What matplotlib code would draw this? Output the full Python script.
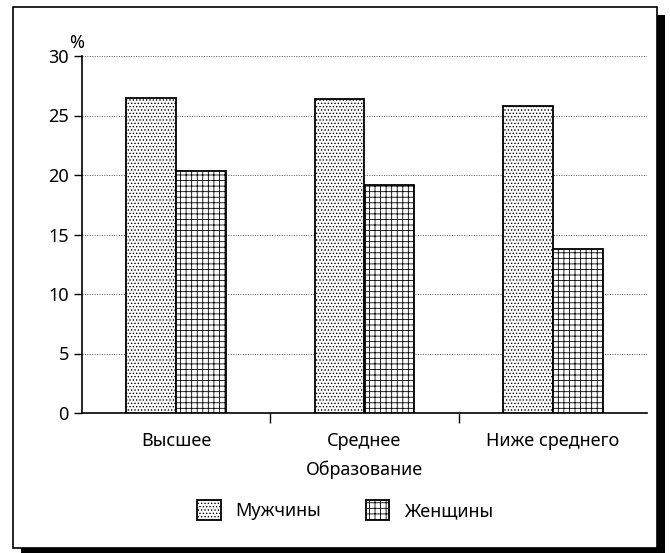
import matplotlib
matplotlib.use("Agg")
import matplotlib.pyplot as plt
import numpy as np
from matplotlib.patches import Rectangle, Patch

categories = ["Высшее", "Среднее", "Ниже среднего"]
men = [26.5, 26.4, 25.8]
women = [20.3, 19.2, 13.8]
series_labels = ["Мужчины", "Женщины"]
yticks = [0, 5, 10, 15, 20, 25, 30]

plt.rcParams['font.family'] = ['Noto Sans', 'DejaVu Sans']
plt.rcParams['hatch.linewidth'] = 0.6

fig = plt.figure(figsize=(6.7, 5.53), dpi=100)
# frame with shadow
fig.patches.append(Rectangle((21/670, 0), 644/670, 1-15/553, transform=fig.transFigure,
                             facecolor='black', edgecolor='none', zorder=0))
fig.patches.append(Rectangle((13/670, 5/553), 644/670, 541/553, transform=fig.transFigure,
                             facecolor='white', edgecolor='black', linewidth=1.2, zorder=1))

ax = fig.add_axes([82/670, 1-413/553, 565/670, 357/553])
ax.set_zorder(2)
ax.patch.set_alpha(0)
x = np.arange(len(categories))
w = 0.265
ax.bar(x - w/2, men, width=w, facecolor='white', edgecolor='black', hatch='.....', linewidth=1.3, zorder=3)
ax.bar(x + w/2, women, width=w, facecolor='white', edgecolor='black', hatch='+++', linewidth=1.3, zorder=3)

ax.set_xlim(-0.5, 2.5)
ax.set_ylim(0, 30)
ax.set_yticks(yticks)
ax.set_yticklabels([str(t) for t in yticks], fontsize=13)
ax.yaxis.grid(True, linestyle=(0, (1, 1.5)), color='#555555', linewidth=0.7)
ax.set_axisbelow(True)
ax.set_xticks(x)
ax.set_xticklabels(categories, fontsize=13)
ax.tick_params(axis='x', length=0, pad=14)
ax.set_xticks([0.5, 1.5], minor=True)
ax.tick_params(axis='x', which='minor', length=7, width=1)
ax.tick_params(axis='y', length=6, width=1)
for s in ['top', 'right']:
    ax.spines[s].set_visible(False)
ax.spines['left'].set_linewidth(1.2)
ax.spines['bottom'].set_linewidth(1.2)
ax.set_xlabel("Образование", fontsize=13, labelpad=7)
ax.text(-0.01, 1.01, "%", transform=ax.transAxes, fontsize=13, ha='center', va='bottom')

handles = [Patch(facecolor='white', edgecolor='black', hatch='.....', linewidth=1.3),
           Patch(facecolor='white', edgecolor='black', hatch='+++', linewidth=1.3)]
fig.legend(handles, series_labels, loc='center', bbox_to_anchor=(345/670, 1-510/553), ncol=2,
           frameon=False, fontsize=13, handlelength=1.3, handleheight=1.3, columnspacing=2.5)

fig.savefig("out.png", dpi=100)
